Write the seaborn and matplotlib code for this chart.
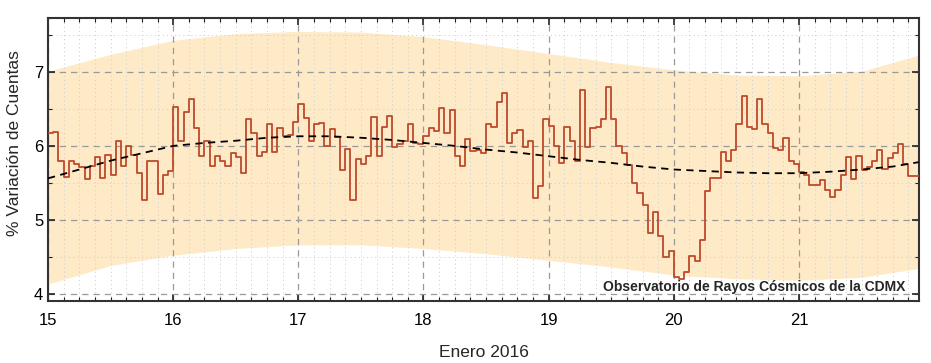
import numpy as np
import pandas as pd
import matplotlib
matplotlib.use("Agg")
import matplotlib.pyplot as plt
from matplotlib.ticker import MultipleLocator
import seaborn as sns

# hourly counts variation (%), 15 Jan 00:00 -> 21 Jan 23:00
day1 = [6.18, 6.19, 5.80, 5.58, 5.80, 5.76, 5.72, 5.55, 5.73, 5.85, 5.56, 5.88,
        5.61, 6.07, 5.73, 6.00, 5.88, 5.63, 5.27, 5.79, 5.79, 5.35, 5.61, 5.66]
day2 = [6.52, 6.06, 6.46, 6.64, 6.24, 5.86, 6.06, 5.73, 5.86, 5.80, 5.73, 5.90,
        5.85, 5.63, 6.36, 6.18, 5.86, 5.92, 6.29, 5.92, 6.24, 6.13, 6.15, 6.33]
day3 = [6.57, 6.38, 6.06, 6.29, 6.31, 6.00, 6.23, 6.12, 5.68, 5.96, 5.27, 5.82,
        5.76, 5.86, 6.39, 5.86, 6.25, 6.41, 5.98, 6.03, 6.06, 6.29, 6.04, 6.03]
day4 = [6.13, 6.24, 6.20, 6.51, 6.18, 6.49, 5.86, 5.73, 6.09, 5.93, 5.94, 5.91,
        6.29, 6.25, 6.59, 6.71, 6.04, 6.18, 6.21, 5.98, 6.06, 5.29, 5.45, 6.36]
day5 = [6.27, 6.00, 5.77, 6.25, 6.07, 5.79, 6.76, 5.98, 6.24, 6.25, 6.37, 6.80,
        6.36, 6.00, 5.91, 5.74, 5.50, 5.36, 5.20, 4.82, 5.11, 4.78, 4.49, 4.57]
day6 = [4.22, 4.20, 4.29, 4.51, 4.44, 4.73, 5.39, 5.57, 5.57, 5.92, 5.79, 5.95,
        6.30, 6.67, 6.25, 6.23, 6.64, 6.30, 6.17, 5.97, 5.95, 6.11, 5.80, 5.76]
day7 = [5.64, 5.61, 5.47, 5.47, 5.54, 5.40, 5.31, 5.40, 5.60, 5.85, 5.55, 5.86,
        5.68, 5.71, 5.79, 5.94, 5.69, 5.84, 5.91, 6.03, 5.76, 5.59, 5.59, 5.59]

# fitted trend (dashed) read every quarter day
fit_x = [15.0, 15.25, 15.5, 15.75, 16.0, 16.25, 16.5, 16.75, 17.0, 17.25, 17.5,
         17.75, 18.0, 18.25, 18.5, 18.75, 19.0, 19.25, 19.5, 19.75, 20.0, 20.25,
         20.5, 20.75, 21.0, 21.25, 21.5, 21.75, 21.958]
fit_y = [5.56, 5.68, 5.80, 5.90, 6.00, 6.04, 6.07, 6.11, 6.13, 6.13, 6.11,
         6.08, 6.04, 6.00, 5.95, 5.91, 5.86, 5.81, 5.77, 5.72, 5.68, 5.66,
         5.64, 5.63, 5.63, 5.65, 5.68, 5.72, 5.78]

# shaded band
band_x = [15.0, 15.5, 16.0, 16.5, 17.0, 17.5, 18.0, 18.5, 19.0, 19.5, 20.0,
          20.5, 21.0, 21.5, 21.958]
band_hi = [7.01, 7.24, 7.43, 7.52, 7.55, 7.54, 7.48, 7.37, 7.25, 7.13, 7.03,
           6.96, 6.95, 7.01, 7.23]
band_lo = [4.13, 4.38, 4.52, 4.61, 4.66, 4.66, 4.61, 4.54, 4.45, 4.36, 4.25,
           4.20, 4.18, 4.22, 4.34]

values = day1 + day2 + day3 + day4 + day5 + day6 + day7
df = pd.DataFrame({"dia": 15 + np.arange(len(values)) / 24.0, "var": values})

sns.set_style("ticks")
plt.rcParams["font.family"] = ["Liberation Sans", "DejaVu Sans"]

fig, ax = plt.subplots(figsize=(9.31, 3.63), dpi=100)
fig.subplots_adjust(left=0.0516, right=0.987, top=0.950, bottom=0.171)

ax.fill_between(band_x, band_lo, band_hi, color="#feeac6", linewidth=0, zorder=1)
sns.lineplot(data=df, x="dia", y="var", drawstyle="steps-post", color="#bd4a2b",
             linewidth=1.3, ax=ax, zorder=3)
sns.lineplot(x=fit_x, y=fit_y, color="black", linestyle=(0, (4, 3)), linewidth=1.3,
             ax=ax, zorder=4)

ax.set_xlim(15, 15 + 167 / 24)
ax.set_ylim(3.9, 7.73)
ax.xaxis.set_major_locator(MultipleLocator(1))
ax.xaxis.set_minor_locator(MultipleLocator(0.125))
ax.yaxis.set_major_locator(MultipleLocator(1))
ax.yaxis.set_minor_locator(MultipleLocator(0.5))
ax.tick_params(which="both", direction="in", top=True, right=True, labelsize=12,
               colors="#222222", labelcolor="black")
ax.tick_params(which="major", length=5, width=1.2)
ax.tick_params(which="minor", length=3, width=0.8)
ax.tick_params(axis="x", which="major", pad=9)

ax.set_axisbelow("line")
ax.grid(which="major", linestyle=(0, (5, 4)), color="#999999", linewidth=0.9)
ax.grid(which="minor", linestyle=(0, (1.2, 3)), color="#d2d2d2", linewidth=0.7)
for s in ax.spines.values():
    s.set_color("#333333")
    s.set_linewidth(1.5)

ax.set_xlabel("Enero 2016", fontsize=12.5, labelpad=12)
ax.set_ylabel("% Variación de Cuentas", fontsize=12.5)
ax.yaxis.set_label_coords(-0.03, 0.56)
ax.text(0.984, 0.05, "Observatorio de Rayos Cósmicos de la CDMX", transform=ax.transAxes,
        ha="right", va="center", fontsize=10, fontweight="bold", zorder=5)

fig.savefig("out.png", dpi=100)
